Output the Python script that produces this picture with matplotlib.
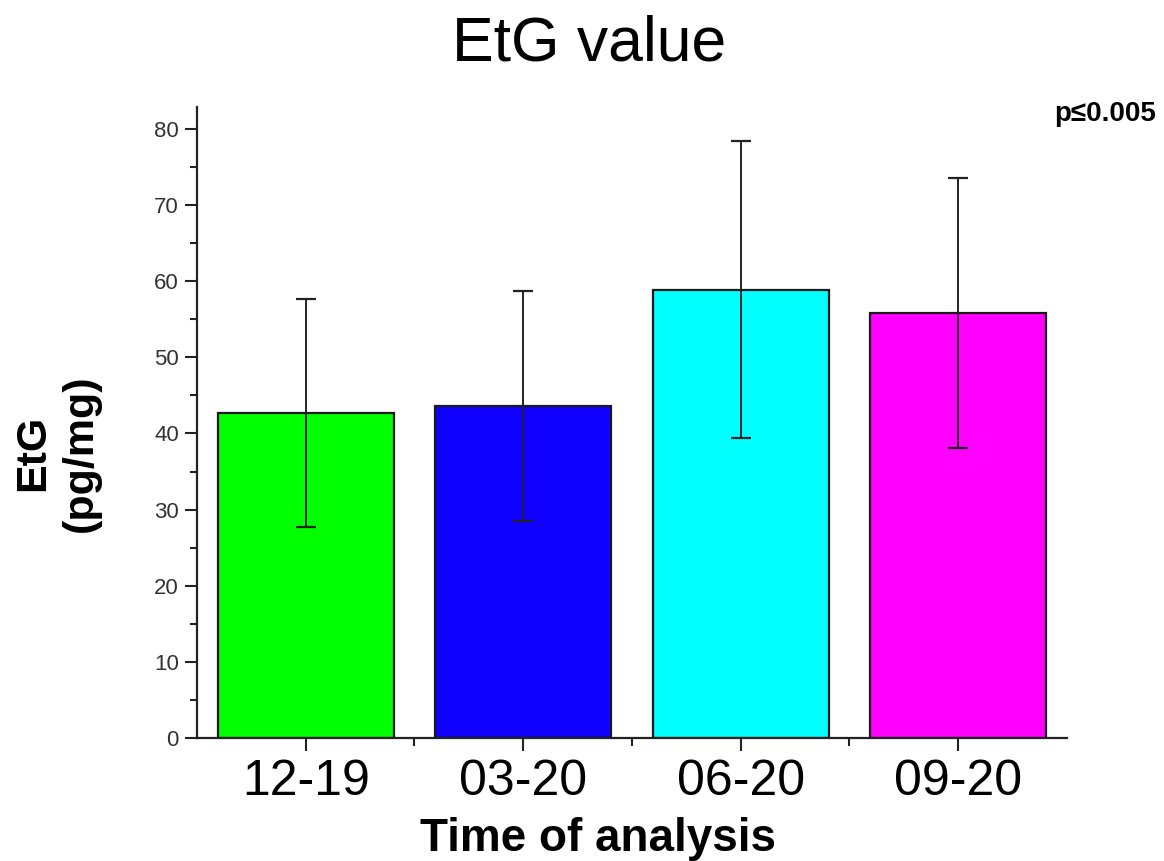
import numpy as np
import matplotlib
matplotlib.use('Agg')
from matplotlib import pyplot as plt
from matplotlib.ticker import MultipleLocator

# data
periods = ['12-19', '03-20', '06-20', '09-20']
etg_mean = [42.7, 43.6, 58.9, 55.8]
etg_err = [15.0, 15.1, 19.5, 17.7]
bar_colors = ['#00ff00', '#1000ff', '#00ffff', '#ff00ff']

plt.rcParams['font.family'] = ['Liberation Sans', 'DejaVu Sans']

fig = plt.figure(figsize=(11.64, 8.61), dpi=100)
ax = fig.add_axes([0.1692, 0.1429, 0.7474, 0.7329])

x = np.arange(len(periods))
ax.bar(x, etg_mean, width=0.81, color=bar_colors, edgecolor='#1a1a1a',
       linewidth=1.6, zorder=2)
ax.errorbar(x, etg_mean, yerr=etg_err, fmt='none', ecolor='#222222',
            elinewidth=1.4, capsize=7, capthick=1.6, zorder=3)

ax.set_xlim(-0.5, 3.5)
ax.set_ylim(0, 82.9)
ax.yaxis.set_major_locator(MultipleLocator(10))
ax.yaxis.set_minor_locator(MultipleLocator(5))
ax.set_xticks(x)
ax.set_xticklabels(periods, fontsize=36)
ax.set_xticks(x[:-1] + 0.5, minor=True)

for side in ('top', 'right'):
    ax.spines[side].set_visible(False)
for side in ('left', 'bottom'):
    ax.spines[side].set_linewidth(1.6)
    ax.spines[side].set_color('#222222')

ax.tick_params(axis='y', which='major', direction='out', length=9, width=1.5,
               labelsize=16, colors='#222222', pad=4)
ax.tick_params(axis='y', which='minor', direction='out', length=5, width=1.5,
               colors='#222222')
ax.tick_params(axis='x', which='major', direction='out', length=9, width=1.5,
               colors='#222222', pad=6)
ax.tick_params(axis='x', which='minor', direction='out', length=6, width=1.5,
               colors='#222222')
for lbl in ax.get_xticklabels():
    lbl.set_color('black')
for lbl in ax.get_yticklabels():
    lbl.set_color('#333333')

fig.text(0.506, 0.949, 'EtG value', ha='center', va='center', fontsize=45)
fig.text(0.514, 0.026, 'Time of analysis', ha='center', va='center',
         fontsize=33, fontweight='bold')
fig.text(0.049, 0.474, 'EtG\n(pg/mg)', ha='center', va='center', rotation=90,
         fontsize=31, fontweight='bold', linespacing=1.25,
         multialignment='center')
fig.text(0.9935, 0.868, 'p\u22640.005', ha='right', va='center', fontsize=20,
         fontweight='bold')

fig.savefig('out.png', dpi=100, facecolor='white')
plt.close()
